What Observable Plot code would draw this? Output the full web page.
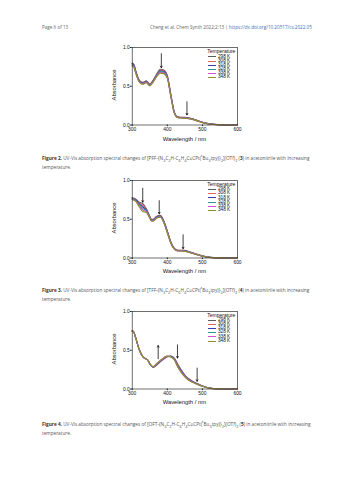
<!DOCTYPE html>
<html>
<head>
<meta charset="utf-8">
<script src="https://cdn.jsdelivr.net/npm/d3@7"></script>
<script src="https://cdn.jsdelivr.net/npm/@observablehq/plot@0.6"></script>
<style>
  html, body { margin: 0; padding: 0; background: #fff; }
  #page { position: relative; width: 353px; height: 480px; overflow: hidden; background: #fff; font-family: "Open Sans", "Liberation Sans", sans-serif; }
  .abs { position: absolute; white-space: nowrap; }
  .hdr { font-size: 4.6px; color: #666; line-height: 5px; }
  .hdr a { color: #3a6fb5; text-decoration: none; }
  .cap { font-size: 4.72px; color: #555; line-height: 6.7px; }
  .cap b { color: #333; }
  .ax { font-family: "Liberation Sans", Arial, sans-serif; font-size: 5.8px; color: #111; }
  .leg { font-family: "Liberation Sans", Arial, sans-serif; font-size: 4.7px; color: #111; line-height: 4.7px; }
  .legline { position: absolute; height: 0; }
</style>
</head>
<body>
<div id="page"></div>
<script>
// ---------- data ----------
const temps = ["298 K", "308 K", "318 K", "328 K", "338 K", "348 K"];
const colors = ["#5c5c5c", "#e4655e", "#3a3dab", "#2a9696", "#d64ed6", "#8e8e2c"];
const xTicks = [300, 400, 500, 600];
const yTicks = [0, 0.5, 1.0];

// Figure 2, complex 3
const wl3 = [300,305,310,320,330,340,350,360,370,380,390,400,410,420,430,440,450,460,470,480,490,500,520,550,600];
const abs3_298 = [0.80,0.78,0.70,0.58,0.55,0.57,0.53,0.58,0.66,0.72,0.71,0.64,0.40,0.17,0.105,0.100,0.098,0.092,0.083,0.068,0.052,0.036,0.015,0.003,0.0];
const abs3_308 = [0.795,0.775,0.695,0.575,0.545,0.565,0.525,0.575,0.65,0.71,0.70,0.63,0.39,0.165,0.103,0.098,0.095,0.089,0.081,0.066,0.050,0.035,0.014,0.003,0.0];
const abs3_318 = [0.79,0.77,0.69,0.57,0.54,0.56,0.52,0.57,0.645,0.70,0.69,0.62,0.385,0.16,0.100,0.096,0.093,0.087,0.079,0.064,0.049,0.034,0.014,0.003,0.0];
const abs3_328 = [0.78,0.76,0.68,0.565,0.535,0.555,0.515,0.565,0.64,0.69,0.68,0.615,0.38,0.158,0.098,0.094,0.091,0.085,0.077,0.063,0.048,0.033,0.013,0.003,0.0];
const abs3_338 = [0.77,0.75,0.675,0.56,0.53,0.55,0.51,0.56,0.63,0.68,0.67,0.61,0.375,0.155,0.096,0.092,0.089,0.083,0.075,0.061,0.047,0.032,0.013,0.002,0.0];
const abs3_348 = [0.76,0.74,0.67,0.555,0.525,0.545,0.505,0.555,0.625,0.67,0.66,0.605,0.37,0.152,0.094,0.090,0.087,0.081,0.073,0.060,0.046,0.031,0.012,0.002,0.0];
const arrowX3 = [383, 456], arrowFrom3 = [0.92, 0.30], arrowTo3 = [0.74, 0.13];

// Figure 3, complex 4
const wl4 = [300,305,310,320,330,340,350,355,360,370,380,390,400,410,420,430,440,450,460,470,480,490,500,520,550,600];
const abs4_298 = [0.78,0.77,0.76,0.72,0.70,0.64,0.54,0.50,0.50,0.54,0.55,0.48,0.35,0.21,0.125,0.100,0.100,0.100,0.085,0.070,0.055,0.040,0.027,0.010,0.002,0];
const abs4_308 = [0.775,0.765,0.75,0.71,0.68,0.63,0.535,0.495,0.495,0.535,0.545,0.475,0.345,0.205,0.122,0.098,0.098,0.097,0.083,0.068,0.054,0.039,0.026,0.010,0.002,0];
const abs4_318 = [0.77,0.76,0.745,0.70,0.66,0.62,0.53,0.49,0.49,0.53,0.54,0.47,0.34,0.20,0.120,0.096,0.096,0.094,0.081,0.066,0.052,0.038,0.025,0.009,0.002,0];
const abs4_328 = [0.765,0.755,0.74,0.69,0.64,0.61,0.525,0.485,0.485,0.525,0.535,0.465,0.335,0.197,0.118,0.094,0.094,0.091,0.079,0.065,0.051,0.037,0.024,0.009,0.002,0];
const abs4_338 = [0.76,0.75,0.735,0.675,0.62,0.60,0.52,0.48,0.48,0.52,0.53,0.46,0.33,0.194,0.116,0.092,0.092,0.088,0.077,0.063,0.050,0.036,0.023,0.008,0.001,0];
const abs4_348 = [0.755,0.745,0.73,0.66,0.60,0.59,0.515,0.475,0.475,0.515,0.525,0.455,0.325,0.19,0.114,0.090,0.090,0.085,0.075,0.062,0.049,0.035,0.022,0.008,0.001,0];
const arrowX4 = [330, 377, 445], arrowFrom4 = [0.90, 0.74, 0.30], arrowTo4 = [0.72, 0.57, 0.12];

// Figure 4, complex 5
const wl5 = [300,305,310,315,320,330,340,345,350,360,370,380,390,400,410,420,430,440,450,460,470,480,490,500,520,540,600];
const abs5_298 = [0.75,0.73,0.66,0.58,0.51,0.42,0.385,0.37,0.325,0.280,0.310,0.350,0.385,0.415,0.425,0.400,0.320,0.245,0.180,0.135,0.105,0.080,0.060,0.040,0.013,0.003,0];
const abs5_308 = [0.75,0.73,0.66,0.58,0.51,0.42,0.385,0.37,0.325,0.282,0.314,0.354,0.389,0.417,0.423,0.395,0.312,0.238,0.175,0.131,0.102,0.078,0.058,0.039,0.013,0.003,0];
const abs5_318 = [0.75,0.73,0.66,0.58,0.51,0.42,0.385,0.37,0.325,0.284,0.318,0.358,0.393,0.419,0.421,0.390,0.304,0.231,0.170,0.127,0.099,0.076,0.056,0.038,0.012,0.003,0];
const abs5_328 = [0.75,0.73,0.66,0.58,0.51,0.42,0.385,0.37,0.326,0.286,0.322,0.362,0.397,0.421,0.418,0.385,0.296,0.224,0.165,0.123,0.096,0.074,0.054,0.037,0.012,0.003,0];
const abs5_338 = [0.75,0.73,0.66,0.58,0.51,0.42,0.385,0.37,0.326,0.288,0.326,0.366,0.401,0.423,0.415,0.380,0.288,0.217,0.160,0.119,0.093,0.072,0.052,0.036,0.011,0.002,0];
const abs5_348 = [0.75,0.73,0.66,0.58,0.51,0.42,0.385,0.37,0.327,0.290,0.330,0.370,0.405,0.425,0.412,0.375,0.280,0.210,0.155,0.115,0.090,0.070,0.050,0.035,0.011,0.002,0];
const arrowX5 = [374, 429, 485], arrowFrom5 = [0.39, 0.57, 0.27], arrowTo5 = [0.56, 0.40, 0.10];

const headerLeft = "Page 6 of 13";
const headerMid = "Cheng et al. Chem Synth 2022;2:13 | ";
const headerLink = "https://dx.doi.org/10.20517/cs.2022.05";
const captions = [
  ["Figure 2.", " UV-Vis absorption spectral changes of [PFF-{N<sub>3</sub>C<sub>2</sub>H-C<sub>6</sub>H<sub>4</sub>C≡CPt(<sup>t</sup>Bu<sub>3</sub>tpy)}<sub>2</sub>](OTf)<sub>2</sub> (<b>3</b>) in acetonitrile with increasing", "temperature."],
  ["Figure 3.", " UV-Vis absorption spectral changes of [TFF-{N<sub>3</sub>C<sub>2</sub>H-C<sub>6</sub>H<sub>4</sub>C≡CPt(<sup>t</sup>Bu<sub>3</sub>tpy)}<sub>2</sub>](OTf)<sub>2</sub> (<b>4</b>) in acetonitrile with increasing", "temperature."],
  ["Figure 4.", " UV-Vis absorption spectral changes of [OFT-{N<sub>3</sub>C<sub>2</sub>H-C<sub>6</sub>H<sub>4</sub>C≡CPt(<sup>t</sup>Bu<sub>3</sub>tpy)}<sub>2</sub>](OTf)<sub>2</sub> (<b>5</b>) in acetonitrile with increasing", "temperature."]
];
const xTitle = "Wavelength / nm";
const yTitle = "Absorbance";
const legendTitle = "Temperature";

// ---------- layout ----------
const page = document.getElementById("page");
function add(html, cls, left, top, extra) {
  const d = document.createElement("div");
  d.className = "abs " + cls;
  d.style.left = left + "px";
  d.style.top = top + "px";
  if (extra) Object.assign(d.style, extra);
  d.innerHTML = html;
  page.appendChild(d);
  return d;
}

add(headerLeft, "hdr", 42, 25);
add(headerMid + '<a>' + headerLink + '</a>', "hdr", 150, 25);

const FL = 131.7, FW = 105.3, PH = 77.5;
const tops = [47.3, 180, 310.7];
const capTops = [153, 285, 419];
const datasets = [
  {wl: wl3, s: [abs3_298, abs3_308, abs3_318, abs3_328, abs3_338, abs3_348], ax: arrowX3, af: arrowFrom3, at: arrowTo3},
  {wl: wl4, s: [abs4_298, abs4_308, abs4_318, abs4_328, abs4_338, abs4_348], ax: arrowX4, af: arrowFrom4, at: arrowTo4},
  {wl: wl5, s: [abs5_298, abs5_308, abs5_318, abs5_328, abs5_338, abs5_348], ax: arrowX5, af: arrowFrom5, at: arrowTo5}
];

datasets.forEach((ds, k) => {
  const T = tops[k];
  const rows = [];
  ds.s.forEach((vals, i) => vals.forEach((a, j) => rows.push({w: ds.wl[j], a, t: temps[i]})));
  const arrows = ds.ax.map((x, i) => ({x, y1: ds.af[i], y2: ds.at[i]}));
  const mt = 7, ml = FL - 100, mr = 5, mb = 12;
  const svg = Plot.plot({
    width: ml + FW + mr,
    height: mt + PH + mb,
    marginTop: mt, marginLeft: ml, marginRight: mr, marginBottom: mb,
    style: {fontFamily: "Liberation Sans, Arial, sans-serif", fontSize: "4.9px", background: "transparent", overflow: "visible", color: "#111"},
    x: {domain: [300, 600], ticks: xTicks, tickFormat: d => String(d), label: null, tickSize: 1.6, tickPadding: 1.2},
    y: {domain: [0, 1], ticks: yTicks, tickFormat: d3.format(".1f"), label: null, tickSize: 1.6, tickPadding: 0.8},
    color: {domain: temps, range: colors},
    marks: [
      Plot.line(rows, {x: "w", y: "a", z: "t", stroke: "t", strokeWidth: 1.1, curve: "monotone-x"}),
      Plot.arrow(arrows, {x1: "x", x2: "x", y1: "y1", y2: "y2", stroke: "#000", strokeWidth: 0.75, headLength: 3.4, bend: 0}),
      Plot.frame({stroke: "#222", strokeWidth: 0.65})
    ]
  });
  svg.style.position = "absolute";
  svg.style.left = "100px";
  svg.style.top = (T - mt) + "px";
  page.appendChild(svg);

  // axis titles
  add(xTitle, "ax", FL, T + PH + 10.8, {width: FW + "px", textAlign: "center"});
  add(yTitle, "ax", 114 - 30, T + PH / 2 - 3.6, {width: "60px", textAlign: "center", transform: "rotate(-90deg)", transformOrigin: "50% 50%"});

  // legend
  add(legendTitle, "leg", 207.3, T + 2.0, {fontSize: "5px"});
  temps.forEach((t, i) => {
    const y = T + 9.6 + 4.15 * i;
    const ln = document.createElement("div");
    ln.className = "legline";
    Object.assign(ln.style, {left: "207.7px", top: (y - 0.5) + "px", width: "8.5px", borderTop: (i === 0 ? 1.3 : 1.0) + "px solid " + colors[i]});
    page.appendChild(ln);
    add(t, "leg", 218, y - 2.35);
  });

  // caption
  const c = captions[k];
  add('<b>' + c[0] + '</b>' + c[1] + '<br>' + c[2], "cap", 42, capTops[k]);
});
</script>
</body>
</html>
